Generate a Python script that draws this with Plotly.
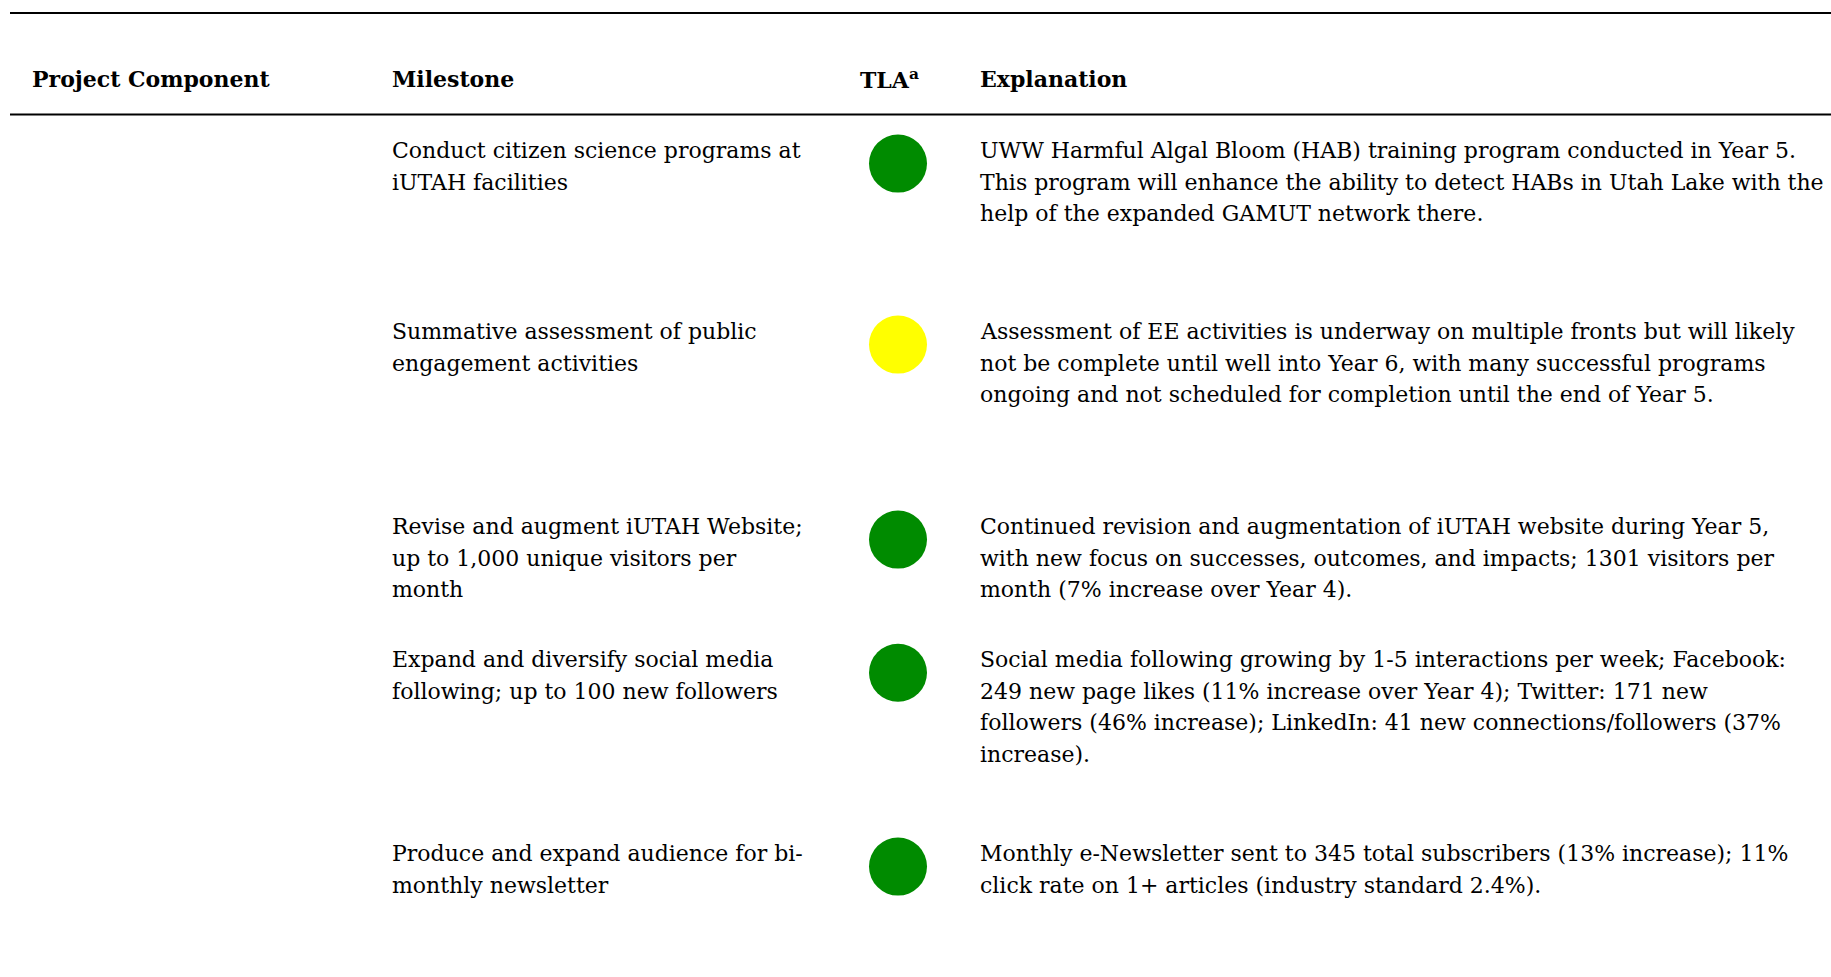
import plotly.graph_objects as go

# ---- data ----
headers = ["Project Component", "Milestone", "TLA<sup>a</sup>", "Explanation"]
milestones = [
    "Conduct citizen science programs at<br>iUTAH facilities",
    "Summative assessment of public<br>engagement activities",
    "Revise and augment iUTAH Website;<br>up to 1,000 unique visitors per<br>month",
    "Expand and diversify social media<br>following; up to 100 new followers",
    "Produce and expand audience for bi-<br>monthly newsletter",
]
tla_status = ["green", "yellow", "green", "green", "green"]
explanations = [
    "UWW Harmful Algal Bloom (HAB) training program conducted in Year 5.<br>"
    "This program will enhance the ability to detect HABs in Utah Lake with the<br>"
    "help of the expanded GAMUT network there.",
    "Assessment of EE activities is underway on multiple fronts but will likely<br>"
    "not be complete until well into Year 6, with many successful programs<br>"
    "ongoing and not scheduled for completion until the end of Year 5.",
    "Continued revision and augmentation of iUTAH website during Year 5,<br>"
    "with new focus on successes, outcomes, and impacts; 1301 visitors per<br>"
    "month (7% increase over Year 4).",
    "Social media following growing by 1-5 interactions per week; Facebook:<br>"
    "249 new page likes (11% increase over Year 4); Twitter: 171 new<br>"
    "followers (46% increase); LinkedIn: 41 new connections/followers (37%<br>"
    "increase).",
    "Monthly e-Newsletter sent to 345 total subscribers (13% increase); 11%<br>"
    "click rate on 1+ articles (industry standard 2.4%).",
]

# ---- layout constants (page pixels) ----
W, H = 1831, 977
col_x = [30, 390, 858, 978]
header_y = 79
row_y = [150.6, 331.6, 526.6, 659.8, 853.6]
line_h = 31.5
circle_x = 898
circle_dy = 13
status_colors = {"green": "#008b00", "yellow": "#ffff00"}
FONT = "DejaVu Serif"
FS = 22

fig = go.Figure()

fig.add_trace(go.Scatter(
    x=[circle_x] * len(tla_status),
    y=[y + circle_dy for y in row_y],
    mode="markers",
    marker=dict(size=58, color=[status_colors[s] for s in tla_status], line=dict(width=0)),
    hoverinfo="skip",
    showlegend=False,
))

annotations = []
for x, h in zip(col_x, headers):
    annotations.append(dict(x=x, y=header_y, text="<b>" + h + "</b>", xanchor="left",
                            yanchor="middle", showarrow=False,
                            font=dict(family=FONT, size=FS, color="black")))

for col, texts in ((col_x[1], milestones), (col_x[3], explanations)):
    for y0, t in zip(row_y, texts):
        for i, line in enumerate(t.split("<br>")):
            annotations.append(dict(x=col, y=y0 + i * line_h, text=line, xanchor="left",
                                    yanchor="middle", showarrow=False,
                                    font=dict(family=FONT, size=FS, color="black")))

shapes = [
    dict(type="line", xref="paper", yref="y", x0=10 / W, x1=1.01, y0=13, y1=13,
         line=dict(color="black", width=2)),
    dict(type="line", xref="paper", yref="y", x0=10 / W, x1=1.01, y0=114.5, y1=114.5,
         line=dict(color="black", width=2)),
]

fig.update_layout(
    width=W, height=H,
    margin=dict(l=0, r=0, t=0, b=0),
    paper_bgcolor="white", plot_bgcolor="white",
    xaxis=dict(range=[0, W], visible=False, fixedrange=True),
    yaxis=dict(range=[H, 0], visible=False, fixedrange=True),
    annotations=annotations, shapes=shapes,
)

fig.write_html(
    "out.html",
    config={"displayModeBar": False},
    post_script="document.body.style.margin='0';document.body.style.overflow='hidden';",
)
